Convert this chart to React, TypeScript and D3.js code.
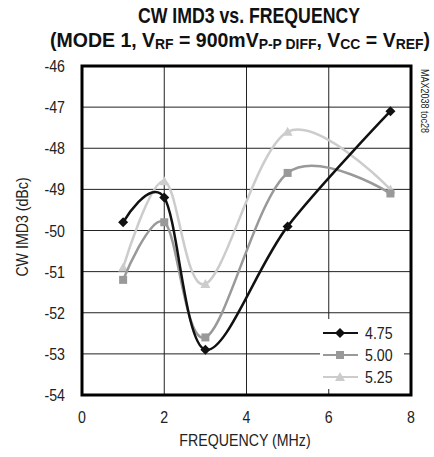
import React, { useLayoutEffect, useRef, useState } from "react";
import * as d3 from "d3";

const freqs = [1, 2, 3, 5, 7.5];
const series475 = [-49.8, -49.2, -52.9, -49.9, -47.1];
const series500 = [-51.2, -49.8, -52.6, -48.6, -49.1];
const series525 = [-50.9, -48.8, -51.3, -47.6, -49.0];
const seriesNames = ["4.75", "5.00", "5.25"];
const seriesColors = ["#111111", "#999999", "#cccccc"];
const xTicks = [0, 2, 4, 6, 8];
const yTicks = [-46, -47, -48, -49, -50, -51, -52, -53, -54];

const W = 434, H = 457;
const L = 82, R = 411, T = 66, B = 395;
const FONT = "'Liberation Sans', Arial, sans-serif";

function NText(props: { x: number; y: number; anchor?: string; size?: number; sx?: number; children: any; bold?: boolean; rotate?: number }) {
  const { x, y, anchor = "start", size = 16.5, sx = 0.86, children, bold, rotate = 0 } = props;
  return (
    <text
      transform={`translate(${x},${y}) rotate(${rotate}) scale(${sx},1)`}
      textAnchor={anchor}
      fontFamily={FONT}
      fontSize={size}
      fontWeight={bold ? "bold" : "normal"}
      fill="#222"
    >
      {children}
    </text>
  );
}

function FitText(props: { cx: number; y: number; width: number; children: any; size: number }) {
  const ref = useRef<SVGTextElement>(null);
  const [sx, setSx] = useState(0.8);
  useLayoutEffect(() => {
    if (ref.current) {
      const w = ref.current.getBBox().width;
      if (w > 0) setSx(props.width / w);
    }
  }, [props.width]);
  return (
    <text
      ref={ref}
      transform={`translate(${props.cx},${props.y}) scale(${sx},1)`}
      textAnchor="middle"
      fontFamily={FONT}
      fontWeight="bold"
      fontSize={props.size}
      fill="#111"
    >
      {props.children}
    </text>
  );
}

export default function App() {
  const x = d3.scaleLinear().domain([0, 8]).range([L, R]);
  const y = d3.scaleLinear().domain([-54, -46]).range([B, T]);
  const all = [series475, series500, series525];
  const line = d3
    .line<[number, number]>()
    .x((d) => x(d[0]))
    .y((d) => y(d[1]))
    .curve(d3.curveCardinal.tension(0));

  const marker = (i: number, cx: number, cy: number, key: string) => {
    const c = seriesColors[i];
    if (i === 0)
      return <path key={key} d={`M${cx},${cy - 5}L${cx + 5},${cy}L${cx},${cy + 5}L${cx - 5},${cy}Z`} fill={c} />;
    if (i === 1) return <rect key={key} x={cx - 4} y={cy - 4} width={8} height={8} fill={c} />;
    return <path key={key} d={`M${cx},${cy - 5}L${cx + 5},${cy + 4}L${cx - 5},${cy + 4}Z`} fill={c} />;
  };

  const legY = [333, 355, 377];

  return (
    <svg width={W} height={H} style={{ position: "absolute", left: 0, top: 0, background: "#fff" }}>
      <rect width={W} height={H} fill="#fff" />
      <FitText cx={249} y={23} width={222} size={22}>
        CW IMD3 vs. FREQUENCY
      </FitText>
      <FitText cx={240} y={47} width={380} size={21}>
        (MODE 1, V<tspan fontSize={15} dy={2}>RF</tspan>
        <tspan dy={-2}> = 900mV</tspan>
        <tspan fontSize={15} dy={2}>P-P DIFF</tspan>
        <tspan dy={-2}>, V</tspan>
        <tspan fontSize={15} dy={2}>CC</tspan>
        <tspan dy={-2}> = V</tspan>
        <tspan fontSize={15} dy={2}>REF</tspan>
        <tspan dy={-2}>)</tspan>
      </FitText>

      {/* grid */}
      {[2, 4, 6].map((v) => (
        <line key={"gx" + v} x1={x(v)} x2={x(v)} y1={T} y2={B} stroke="#222" strokeWidth={1} />
      ))}
      {[-47, -48, -49, -50, -51, -52, -53].map((v) => (
        <line key={"gy" + v} x1={L} x2={R} y1={y(v)} y2={y(v)} stroke="#222" strokeWidth={1} />
      ))}

      {/* series */}
      {all
        .map((s, i) => {
          const pts = freqs.map((f, j) => [f, s[j]] as [number, number]);
          return (
            <g key={"s" + i}>
              <path d={line(pts) || ""} fill="none" stroke={seriesColors[i]} strokeWidth={2.5} />
              {pts.map((p, j) => marker(i, x(p[0]), y(p[1]), `m${i}-${j}`))}
            </g>
          );
        })
        .reverse()}

      {/* legend */}
      <rect x={320} y={319} width={84} height={70} fill="#fff" />
      {seriesNames.map((n, i) => (
        <g key={"l" + i}>
          <line x1={323} x2={358} y1={legY[i]} y2={legY[i]} stroke={seriesColors[i]} strokeWidth={2} />
          {marker(i, 340, legY[i], "lm" + i)}
          <NText x={365} y={legY[i] + 6}>{n}</NText>
        </g>
      ))}

      {/* frame */}
      <rect x={L} y={T} width={R - L} height={B - T} fill="none" stroke="#000" strokeWidth={3} />

      {/* tick labels */}
      {yTicks.map((v) => (
        <NText key={"yt" + v} x={65} y={y(v) + 6} anchor="end">
          {String(v)}
        </NText>
      ))}
      {xTicks.map((v) => (
        <NText key={"xt" + v} x={x(v)} y={423} anchor="middle">
          {String(v)}
        </NText>
      ))}
      <NText x={245} y={446} anchor="middle">FREQUENCY (MHz)</NText>
      <NText x={28} y={227} anchor="middle" rotate={-90}>CW IMD3 (dBc)</NText>
      <NText x={421} y={69} anchor="start" size={10} sx={0.9} rotate={90}>MAX2038 toc28</NText>
    </svg>
  );
}
